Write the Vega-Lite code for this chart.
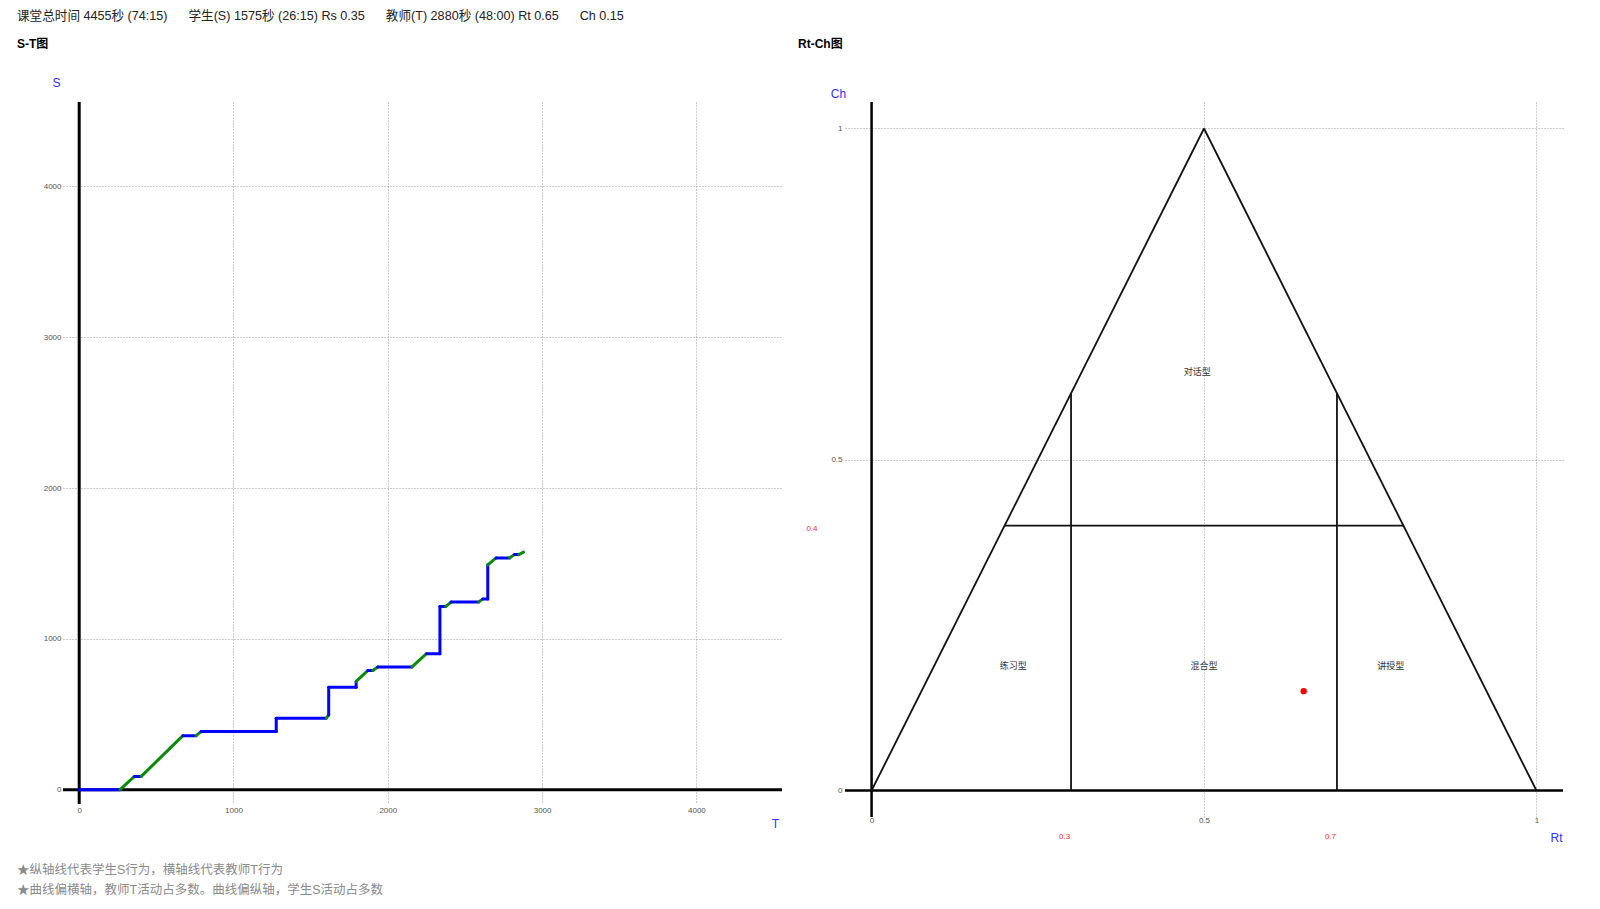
{
  "$schema": "https://vega.github.io/schema/vega-lite/v6.json",
  "padding": {"left": 17, "top": 10, "right": 0, "bottom": 0},
  "bounds": "flush",
  "spacing": 63,
  "title": {
    "text": ["★纵轴线代表学生S行为，横轴线代表教师T行为", "★曲线偏横轴，教师T活动占多数。曲线偏纵轴，学生S活动占多数"],
    "orient": "bottom",
    "anchor": "start",
    "fontSize": 12.5,
    "fontWeight": "normal",
    "color": "#8a8a8a",
    "lineHeight": 20,
    "offset": 21
  },
  "config": {
    "view": {"stroke": null},
    "font": "Liberation Sans, Noto Sans CJK SC, sans-serif",
    "axis": {
      "domain": false,
      "ticks": false,
      "labelFontSize": 8,
      "labelColor": "#555",
      "labelFlush": false,
      "labelOverlap": false,
      "labelBound": false,
      "gridDash": [1, 2],
      "gridColor": "#999",
      "gridWidth": 1,
      "titleColor": "#3030ff",
      "titleFontSize": 12,
      "titleFontWeight": "normal",
      "titleAngle": 0,
      "titleAlign": "center",
      "titleBaseline": "middle"
    }
  },
  "hconcat": [
    {
      "width": 719,
      "height": 702,
      "title": {
        "text": "课堂总时间 4455秒 (74:15)\u00a0\u00a0\u00a0\u00a0\u00a0\u00a0学生(S) 1575秒 (26:15) Rs 0.35\u00a0\u00a0\u00a0\u00a0\u00a0\u00a0教师(T) 2880秒 (48:00) Rt 0.65\u00a0\u00a0\u00a0\u00a0\u00a0\u00a0Ch 0.15",
        "subtitle": "S-T图",
        "anchor": "start",
        "frame": "group",
        "dx": -46,
        "offset": 26,
        "fontSize": 12.6,
        "fontWeight": "normal",
        "color": "#222",
        "subtitleFontSize": 12,
        "subtitleFontWeight": "bold",
        "subtitleColor": "#000",
        "subtitlePadding": 16
      },
      "layer": [
        {
          "data": {"values": [{}]},
          "mark": {"type": "rule", "color": "#000", "strokeWidth": 3},
          "encoding": {"x": {"datum": 0, "type": "quantitative"}}
        },
        {
          "data": {"values": [{}]},
          "mark": {"type": "rule", "color": "#000", "strokeWidth": 3},
          "encoding": {"y": {"datum": 0, "type": "quantitative"}}
        },
        {
          "data": {
            "values": [
              {"T0": 0, "S0": 0, "T1": 265, "S1": 0, "kind": "straight"},
              {"T0": 265, "S0": 0, "T1": 358, "S1": 88, "kind": "diagonal"},
              {"T0": 358, "S0": 88, "T1": 402, "S1": 88, "kind": "straight"},
              {"T0": 402, "S0": 88, "T1": 672, "S1": 358, "kind": "diagonal"},
              {"T0": 672, "S0": 358, "T1": 758, "S1": 358, "kind": "straight"},
              {"T0": 758, "S0": 358, "T1": 790, "S1": 385, "kind": "diagonal"},
              {"T0": 790, "S0": 385, "T1": 1277, "S1": 385, "kind": "straight"},
              {"T0": 1277, "S0": 385, "T1": 1277, "S1": 473, "kind": "straight"},
              {"T0": 1277, "S0": 473, "T1": 1600, "S1": 473, "kind": "straight"},
              {"T0": 1600, "S0": 473, "T1": 1617, "S1": 495, "kind": "diagonal"},
              {"T0": 1617, "S0": 495, "T1": 1617, "S1": 679, "kind": "straight"},
              {"T0": 1617, "S0": 679, "T1": 1795, "S1": 679, "kind": "straight"},
              {"T0": 1795, "S0": 679, "T1": 1795, "S1": 718, "kind": "straight"},
              {"T0": 1795, "S0": 718, "T1": 1870, "S1": 790, "kind": "diagonal"},
              {"T0": 1870, "S0": 790, "T1": 1903, "S1": 790, "kind": "straight"},
              {"T0": 1903, "S0": 790, "T1": 1935, "S1": 814, "kind": "diagonal"},
              {"T0": 1935, "S0": 814, "T1": 2157, "S1": 814, "kind": "straight"},
              {"T0": 2157, "S0": 814, "T1": 2251, "S1": 902, "kind": "diagonal"},
              {"T0": 2251, "S0": 902, "T1": 2338, "S1": 902, "kind": "straight"},
              {"T0": 2338, "S0": 902, "T1": 2338, "S1": 1214, "kind": "straight"},
              {"T0": 2338, "S0": 1214, "T1": 2375, "S1": 1214, "kind": "straight"},
              {"T0": 2375, "S0": 1214, "T1": 2411, "S1": 1245, "kind": "diagonal"},
              {"T0": 2411, "S0": 1245, "T1": 2590, "S1": 1245, "kind": "straight"},
              {"T0": 2590, "S0": 1245, "T1": 2616, "S1": 1265, "kind": "diagonal"},
              {"T0": 2616, "S0": 1265, "T1": 2648, "S1": 1265, "kind": "straight"},
              {"T0": 2648, "S0": 1265, "T1": 2648, "S1": 1491, "kind": "straight"},
              {"T0": 2648, "S0": 1491, "T1": 2702, "S1": 1537, "kind": "diagonal"},
              {"T0": 2702, "S0": 1537, "T1": 2789, "S1": 1537, "kind": "straight"},
              {"T0": 2789, "S0": 1537, "T1": 2821, "S1": 1559, "kind": "diagonal"},
              {"T0": 2821, "S0": 1559, "T1": 2849, "S1": 1559, "kind": "straight"},
              {"T0": 2849, "S0": 1559, "T1": 2880, "S1": 1575, "kind": "diagonal"}
            ]
          },
          "mark": {"type": "rule", "strokeWidth": 3, "strokeCap": "round"},
          "encoding": {
            "x": {
              "field": "T0",
              "type": "quantitative",
              "scale": {"domain": [-105, 4555], "nice": false, "zero": false},
              "axis": {
                "values": [0, 1000, 2000, 3000, 4000],
                "format": "d",
                "title": "T",
                "titleX": 712,
                "titleY": 19,
                "labelPadding": 2,
                "grid": true
              }
            },
            "x2": {"field": "T1"},
            "y": {
              "field": "S0",
              "type": "quantitative",
              "scale": {"domain": [-95, 4560], "nice": false, "zero": false},
              "axis": {
                "values": [0, 1000, 2000, 3000, 4000],
                "format": "d",
                "title": "S",
                "titleX": -7,
                "titleY": -20,
                "labelPadding": 2,
                "grid": true
              }
            },
            "y2": {"field": "S1"},
            "color": {
              "field": "kind",
              "type": "nominal",
              "scale": {"domain": ["straight", "diagonal"], "range": ["#0000ff", "#0a8a0a"]},
              "legend": null
            }
          }
        }
      ]
    },
    {
      "width": 718,
      "height": 715,
      "title": {
        "text": "Rt-Ch图",
        "anchor": "start",
        "frame": "group",
        "dx": -47,
        "offset": 36,
        "fontSize": 12,
        "fontWeight": "bold",
        "color": "#000"
      },
      "layer": [
        {
          "data": {"values": [{}]},
          "mark": {"type": "rule", "color": "#000", "strokeWidth": 2.5},
          "encoding": {"x": {"datum": 0, "type": "quantitative", "scale": {"domain": [-0.04, 1.04], "nice": false, "zero": false}}}
        },
        {
          "data": {"values": [{}]},
          "mark": {"type": "rule", "color": "#000", "strokeWidth": 2.5},
          "encoding": {"y": {"datum": 0, "type": "quantitative", "scale": {"domain": [-0.04, 1.04], "nice": false, "zero": false}}}
        },
        {
          "data": {
            "values": [
              {"Rt": 0, "Ch": 0, "Rt2": 0.5, "Ch2": 1},
              {"Rt": 0.5, "Ch": 1, "Rt2": 1, "Ch2": 0},
              {"Rt": 0.2, "Ch": 0.4, "Rt2": 0.8, "Ch2": 0.4},
              {"Rt": 0.3, "Ch": 0, "Rt2": 0.3, "Ch2": 0.6},
              {"Rt": 0.7, "Ch": 0, "Rt2": 0.7, "Ch2": 0.6}
            ]
          },
          "mark": {"type": "rule", "color": "#111", "strokeWidth": 1.8},
          "encoding": {
            "x": {
              "field": "Rt",
              "type": "quantitative",
              "scale": {"domain": [-0.04, 1.04], "nice": false, "zero": false},
              "axis": {
                "values": [0, 0.3, 0.5, 0.7, 1],
                "format": "~g",
                "title": "Rt",
                "titleX": 711,
                "titleY": 20,
                "grid": true,
                "gridOpacity": {"condition": {"test": "datum.value == 0.5 || datum.value == 1", "value": 1}, "value": 0},
                "labelColor": {"condition": {"test": "datum.value == 0.3 || datum.value == 0.7", "value": "#ff2a2a"}, "value": "#555"},
                "labelPadding": {"condition": {"test": "datum.value == 0.3 || datum.value == 0.7", "value": 15}, "value": -1},
                "labelOffset": {"condition": {"test": "datum.value == 0.3 || datum.value == 0.7", "value": -7}, "value": 0}
              }
            },
            "x2": {"field": "Rt2"},
            "y": {
              "field": "Ch",
              "type": "quantitative",
              "scale": {"domain": [-0.04, 1.04], "nice": false, "zero": false},
              "axis": {
                "values": [0, 0.4, 0.5, 1],
                "format": "~g",
                "title": "Ch",
                "titleX": -7,
                "titleY": -9,
                "grid": true,
                "gridOpacity": {"condition": {"test": "datum.value == 0.5 || datum.value == 1", "value": 1}, "value": 0},
                "labelColor": {"condition": {"test": "datum.value == 0.4", "value": "#ff2a2a"}, "value": "#555"},
                "labelPadding": {"condition": {"test": "datum.value == 0.4", "value": 28}, "value": 3},
                "labelOffset": {"condition": {"test": "datum.value == 0.4", "value": 3}, "value": 0}
              }
            },
            "y2": {"field": "Ch2"}
          }
        },
        {
          "data": {
            "values": [
              {"Rt": 0.49, "Ch": 0.632, "label": "对话型"},
              {"Rt": 0.213, "Ch": 0.188, "label": "练习型"},
              {"Rt": 0.5, "Ch": 0.188, "label": "混合型"},
              {"Rt": 0.781, "Ch": 0.188, "label": "讲授型"}
            ]
          },
          "mark": {"type": "text", "fontSize": 9, "color": "#333"},
          "encoding": {
            "x": {"field": "Rt", "type": "quantitative"},
            "y": {"field": "Ch", "type": "quantitative"},
            "text": {"field": "label"}
          }
        },
        {
          "data": {"values": [{"Rt": 0.65, "Ch": 0.15}]},
          "mark": {"type": "circle", "color": "#ff0000", "size": 40, "opacity": 1},
          "encoding": {
            "x": {"field": "Rt", "type": "quantitative"},
            "y": {"field": "Ch", "type": "quantitative"}
          }
        }
      ]
    }
  ]
}
